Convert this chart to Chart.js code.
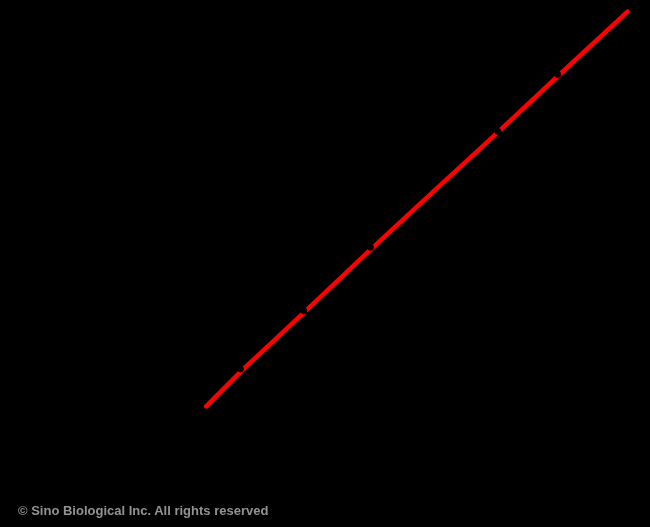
<!DOCTYPE html>
<html>
<head>
<meta charset="utf-8">
<script src="https://cdn.jsdelivr.net/npm/chart.js@4.4.1/dist/chart.umd.min.js"></script>
<style>
  html, body { margin: 0; padding: 0; background: #000; }
  #wrap { position: relative; width: 650px; height: 527px; }
  #note {
    position: absolute; left: 18px; top: 503px;
    font: bold 13px "Liberation Sans", Arial, sans-serif;
    color: #939393; white-space: nowrap;
  }
</style>
</head>
<body>
<div id="wrap">
  <canvas id="curve" width="650" height="527"></canvas>
  <div id="note">© Sino Biological Inc. All rights reserved</div>
</div>
<script>
// standard curve, log2 units
const fitX = [2.46, 3, 4, 5, 6, 7, 8, 9.1];
const fitY = [1.24, 1.82, 2.82, 3.83, 4.82, 5.8, 6.8, 7.89];

// standards (drawn in black, only visible as gaps in the red line)
const stdX = [3, 4, 5.05, 7.06, 8];
const stdY = [1.87, 2.85, 3.92, 5.87, 6.83];

const toPoints = (xs, ys) => xs.map((x, i) => ({ x: x, y: ys[i] }));

const ctx = document.getElementById("curve").getContext("2d");

new Chart(ctx, {
  type: "scatter",
  data: {
    datasets: [
      {
        label: "Standards",
        data: toPoints(stdX, stdY),
        backgroundColor: "#000",
        borderColor: "#000",
        pointRadius: 3,
        order: 0
      },
      {
        label: "Fit",
        data: toPoints(fitX, fitY),
        showLine: true,
        borderColor: "#ff0000",
        borderWidth: 4.5,
        borderCapStyle: "round",
        pointRadius: 0,
        tension: 0,
        order: 1
      }
    ]
  },
  options: {
    responsive: false,
    animation: false,
    layout: { padding: { left: 50, right: 0, top: 0, bottom: 47 } },
    plugins: {
      legend: { display: false },
      tooltip: { enabled: false }
    },
    scales: {
      x: { type: "linear", min: 0, max: 9.375, display: false },
      y: { type: "linear", min: 0, max: 8, display: false }
    }
  }
});
</script>
</body>
</html>
